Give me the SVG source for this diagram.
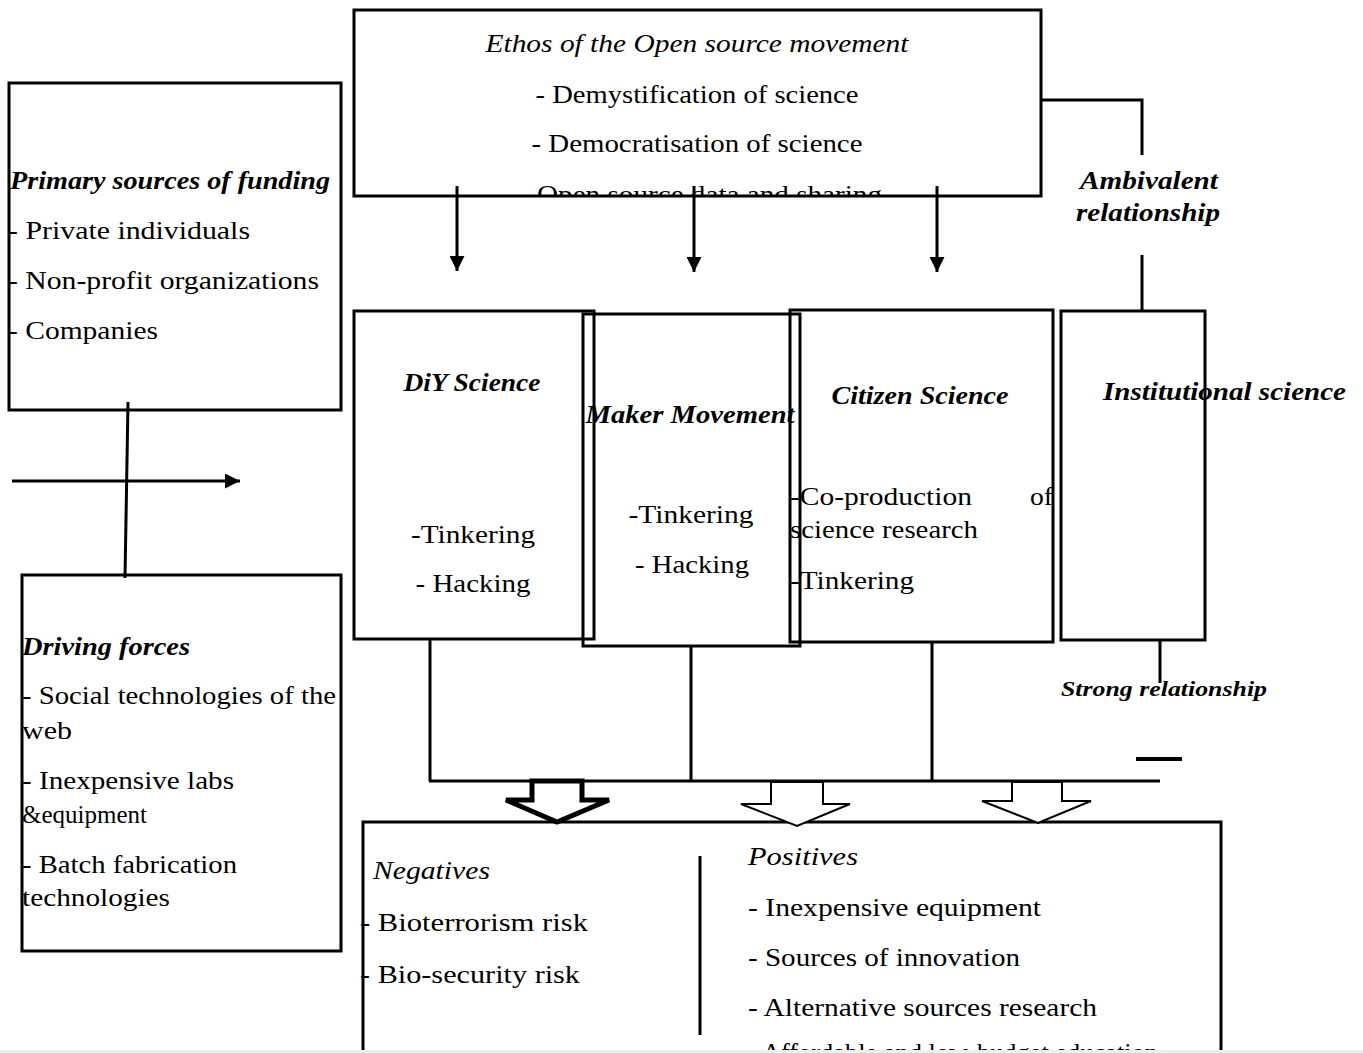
<svg xmlns="http://www.w3.org/2000/svg" width="1363" height="1053" viewBox="0 0 1363 1053">
<style>
text{font-family:"Liberation Serif","Times New Roman",serif;font-size:25px;fill:#000}
.i{font-style:italic}
.bi{font-style:italic;font-weight:bold}
.box{fill:none;stroke:#000;stroke-width:3}
.ln{fill:none;stroke:#000;stroke-width:3}
.blk{fill:#fff;stroke:#000;stroke-width:2;stroke-linejoin:miter}
</style>
<defs>
<marker id="ah" viewBox="0 0 10 10" refX="10" refY="5" markerWidth="5.5" markerHeight="5" orient="auto" markerUnits="strokeWidth">
<path d="M0,0 L10,5 L0,10 z" fill="#000"/>
</marker>
<clipPath id="topclip"><rect x="354" y="0" width="687" height="195"/></clipPath>
</defs>
<rect width="1363" height="1053" fill="#fff"/>

<g id="ethos">
<rect class="box" x="354" y="10" width="687" height="186"/>
<text class="i" x="697" y="52" text-anchor="middle" textLength="423" lengthAdjust="spacingAndGlyphs">Ethos of the Open source movement</text>
<text x="697" y="103" text-anchor="middle" textLength="323" lengthAdjust="spacingAndGlyphs">- Demystification of science</text>
<text x="697" y="152" text-anchor="middle" textLength="331" lengthAdjust="spacingAndGlyphs">- Democratisation of science</text>
<text x="701" y="203" text-anchor="middle" textLength="362" lengthAdjust="spacingAndGlyphs" clip-path="url(#topclip)">- Open source data and sharing</text>
</g>

<g id="funding">
<rect class="box" x="9" y="83" width="332" height="327"/>
<text class="bi" x="10" y="189" textLength="320" lengthAdjust="spacingAndGlyphs">Primary sources of funding</text>
<text x="8" y="239" textLength="242" lengthAdjust="spacingAndGlyphs">- Private individuals</text>
<text x="8" y="289" textLength="311" lengthAdjust="spacingAndGlyphs">- Non-profit organizations</text>
<text x="8" y="339" textLength="150" lengthAdjust="spacingAndGlyphs">- Companies</text>
</g>

<g id="driving">
<rect class="box" x="22" y="575" width="319" height="376"/>
<text class="bi" x="22" y="655" textLength="168" lengthAdjust="spacingAndGlyphs">Driving forces</text>
<text x="22" y="704" textLength="314" lengthAdjust="spacingAndGlyphs">- Social technologies of the</text>
<text x="22" y="739" textLength="50" lengthAdjust="spacingAndGlyphs">web</text>
<text x="22" y="789" textLength="212" lengthAdjust="spacingAndGlyphs">- Inexpensive labs</text>
<text x="22" y="823">&amp;equipment</text>
<text x="22" y="873" textLength="215" lengthAdjust="spacingAndGlyphs">- Batch fabrication</text>
<text x="22" y="906" textLength="148" lengthAdjust="spacingAndGlyphs">technologies</text>
</g>

<g id="diy">
<rect class="box" x="354" y="311" width="240" height="328"/>
<text class="bi" x="472" y="391" text-anchor="middle" textLength="137" lengthAdjust="spacingAndGlyphs">DiY Science</text>
<text x="473" y="543" text-anchor="middle" textLength="124" lengthAdjust="spacingAndGlyphs">-Tinkering</text>
<text x="473" y="592" text-anchor="middle" textLength="115" lengthAdjust="spacingAndGlyphs">- Hacking</text>
</g>

<g id="maker">
<rect class="box" x="583" y="314" width="217" height="332"/>
<text class="bi" x="690" y="423" text-anchor="middle" textLength="209" lengthAdjust="spacingAndGlyphs">Maker Movement</text>
<text x="691" y="523" text-anchor="middle" textLength="125" lengthAdjust="spacingAndGlyphs">-Tinkering</text>
<text x="692" y="573" text-anchor="middle" textLength="114" lengthAdjust="spacingAndGlyphs">- Hacking</text>
</g>

<g id="citizen">
<rect class="box" x="790" y="310" width="263" height="332"/>
<text class="bi" x="920" y="404" text-anchor="middle" textLength="177" lengthAdjust="spacingAndGlyphs">Citizen Science</text>
<text x="790" y="505" textLength="182" lengthAdjust="spacingAndGlyphs">-Co-production</text>
<text x="1030" y="505" textLength="23" lengthAdjust="spacingAndGlyphs">of</text>
<text x="790" y="538" textLength="188" lengthAdjust="spacingAndGlyphs">science research</text>
<text x="790" y="589" textLength="124" lengthAdjust="spacingAndGlyphs">-Tinkering</text>
</g>

<g id="institutional">
<rect class="box" x="1061" y="311" width="144" height="329"/>
<text class="bi" x="1103" y="400" textLength="243" lengthAdjust="spacingAndGlyphs">Institutional science</text>
</g>

<g id="ambivalent">
<text class="bi" x="1149" y="189" text-anchor="middle" textLength="138" lengthAdjust="spacingAndGlyphs">Ambivalent</text>
<text class="bi" x="1148" y="221" text-anchor="middle" textLength="144" lengthAdjust="spacingAndGlyphs">relationship</text>
</g>

<g id="strong">
<text class="bi" x="1061" y="696" style="font-size:20px" textLength="206" lengthAdjust="spacingAndGlyphs">Strong relationship</text>
</g>

<g id="outcomes">
<path class="box" d="M363,1053 V822 H1221 V1053"/>
<text class="i" x="373" y="879" textLength="117" lengthAdjust="spacingAndGlyphs">Negatives</text>
<text x="360" y="931" textLength="228" lengthAdjust="spacingAndGlyphs">- Bioterrorism risk</text>
<text x="360" y="983" textLength="220" lengthAdjust="spacingAndGlyphs">- Bio-security risk</text>
<line class="ln" x1="700" y1="856" x2="700" y2="1035"/>
<text class="i" x="748" y="865" textLength="110" lengthAdjust="spacingAndGlyphs">Positives</text>
<text x="748" y="916" textLength="293" lengthAdjust="spacingAndGlyphs">- Inexpensive equipment</text>
<text x="748" y="966" textLength="272" lengthAdjust="spacingAndGlyphs">- Sources of innovation</text>
<text x="748" y="1016" textLength="349" lengthAdjust="spacingAndGlyphs">- Alternative sources research</text>
<text x="748" y="1061" textLength="410" lengthAdjust="spacingAndGlyphs">- Affordable and low-budget education</text>
</g>

<g id="connectors">
<line class="ln" x1="457" y1="186" x2="457" y2="271" marker-end="url(#ah)"/>
<line class="ln" x1="694" y1="186" x2="694" y2="272" marker-end="url(#ah)"/>
<line class="ln" x1="937" y1="186" x2="937" y2="272" marker-end="url(#ah)"/>
<polyline class="ln" points="1041,100 1142,100 1142,155"/>
<line class="ln" x1="1142" y1="255" x2="1142" y2="311"/>
<line class="ln" x1="128" y1="402" x2="125" y2="578"/>
<line class="ln" x1="12" y1="481" x2="240" y2="481" marker-end="url(#ah)"/>
<line class="ln" x1="1160" y1="640" x2="1160" y2="683"/>
<line x1="1136" y1="759" x2="1182" y2="759" stroke="#000" stroke-width="4"/>
<line class="ln" x1="430" y1="639" x2="430" y2="781"/>
<line class="ln" x1="691" y1="646" x2="691" y2="781"/>
<line class="ln" x1="932" y1="642" x2="932" y2="781"/>
<line class="ln" x1="429" y1="781" x2="1160" y2="781"/>
<polygon class="blk" style="stroke-width:5" points="532,781 582,781 582,800 609,800 557,822 506,800 532,800"/>
<polygon class="blk" points="771,782 823,782 823,804 850,804 797,826 741,804 771,804"/>
<polygon class="blk" points="1012,782 1062,782 1062,801 1091,801 1038,823 982,801 1012,801"/>
</g>
<rect x="0" y="1050" width="1363" height="3" fill="#eeeeee"/>
</svg>
